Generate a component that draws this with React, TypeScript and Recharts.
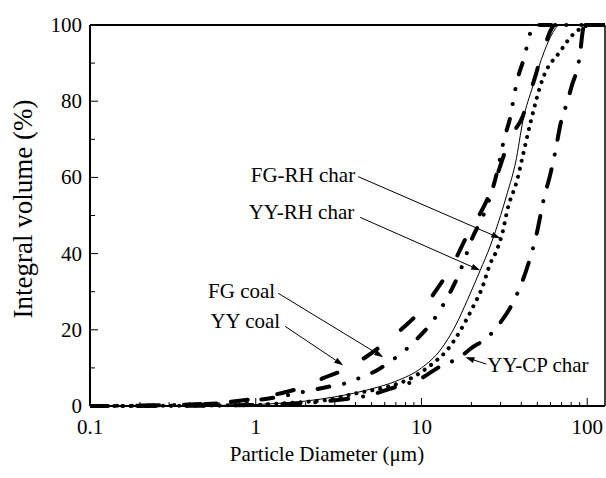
import React from 'react';
import { LineChart, Line, XAxis, YAxis, ReferenceLine } from 'recharts';

const FONT = '"Liberation Serif", "Times New Roman", Times, serif';

// particle diameter (um) -> integral volume (%)
const fgCoal = [
  [0.1, 0], [0.2, 0.1], [0.5, 0.5], [1, 1.5], [1.5, 2.7], [2.2, 4.2], [2.7, 5], [3.5, 6],
  [4.2, 7.3], [5.4, 9.4], [6.4, 11.5], [8, 14.7], [9.5, 17.8], [11.8, 22.5], [13.3, 26],
  [14.8, 29.6], [16.7, 34.3], [18.4, 39], [20, 43.5], [23.6, 50], [26, 55], [28.8, 62],
  [31.5, 70], [34.4, 76], [36.4, 82], [38.1, 86], [41.7, 91.5], [45, 97.5], [48, 100], [128, 100],
];
const yyCoal = [
  [0.1, 0], [0.2, 0.1], [0.5, 0.6], [1, 2], [1.5, 3.6], [2, 5.2], [2.55, 7.3], [3.37, 9.4],
  [4.6, 12.8], [5.8, 16], [8.3, 21.7], [10.2, 25.6], [13, 32], [15, 36], [18.5, 44], [21, 48],
  [26, 56], [28.3, 60], [31.5, 66], [35, 71], [40.8, 76], [45, 82], [48.6, 86.5], [52, 91],
  [56, 95], [60, 98.5], [64, 100], [128, 100],
];
const fgRhChar = [
  [0.1, 0], [0.3, 0.05], [0.6, 0.15], [1, 0.3], [1.85, 1], [2.7, 1.6], [4.1, 3.4], [6.2, 5],
  [8.9, 7.6], [11.8, 11.3], [14.3, 14.7], [17.2, 19.9], [20.4, 25.9], [23.3, 31.2], [26, 37.4],
  [28.4, 40.8], [30.6, 45], [33.2, 52], [37.6, 59], [41, 66], [45.4, 74.3], [54, 86],
  [69, 93.2], [80, 97], [95, 99.5], [105, 100], [128, 100],
];
const yyRhChar = [
  [0.1, 0], [0.3, 0.05], [0.6, 0.15], [1, 0.4], [1.5, 0.8], [2, 1.3], [3, 2.4], [5, 4.5],
  [7, 6.5], [10, 10], [13, 14.7], [16, 21], [19, 28], [22.6, 35.6], [26, 42], [30, 50],
  [33, 56], [37, 64], [41, 75], [47, 84], [55, 93], [62, 98], [68, 100], [128, 100],
];
const yyCpChar = [
  [0.1, 0], [0.5, 0.1], [1, 0.3], [2, 0.8], [3, 1.5], [5, 3], [7, 5], [10, 7.3], [12.5, 10],
  [17, 12.8], [20, 15.2], [25, 18], [30, 22], [35, 26.5], [40, 32], [45, 38.5], [50, 46],
  [54.4, 53.9], [60, 61], [64.3, 67], [69, 74], [76, 80], [81.4, 84.6], [87.3, 88.7],
  [91, 93.2], [93, 97], [96, 100], [128, 100],
];

const xTicks = [0.1, 0.2, 0.3, 0.4, 0.5, 0.6, 0.7, 0.8, 0.9, 1, 2, 3, 4, 5, 6, 7, 8, 9,
  10, 20, 30, 40, 50, 60, 70, 80, 90, 100];
const xLabelled = [0.1, 1, 10, 100];
const yTicks = [0, 10, 20, 30, 40, 50, 60, 70, 80, 90, 100];
const yLabelled = [0, 20, 40, 60, 80, 100];

// annotation text, arrow tail and head in data units
const notes = [
  { text: 'FG-RH char', from: [4.15, 60.2], to: [29.9, 44.0] },
  { text: 'YY-RH char', from: [4.27, 49.5], to: [22.6, 35.6] },
  { text: 'FG coal', from: [1.365, 29.6], to: [5.88, 12.8] },
  { text: 'YY coal', from: [1.505, 20.9], to: [3.37, 10.7] },
  { text: 'YY-CP char', from: [24.6, 11.0], to: [18.4, 12.8] },
];
const noteText = [
  { anchor: 'end', dx: -3, dy: 5 },
  { anchor: 'end', dx: -6, dy: 2 },
  { anchor: 'end', dx: -3, dy: 5 },
  { anchor: 'end', dx: -5, dy: 2 },
  { anchor: 'start', dx: 1, dy: 8 },
];

const toPts = (a: number[][]) => a.map(([x, y]) => ({ x, y }));

const XTick = (p: any) => {
  const { x, y, payload } = p;
  const major = xLabelled.includes(payload.value);
  return (
    <g>
      <line x1={x} x2={x} y1={y} y2={y - (major ? 8 : 4)} stroke="#000" strokeWidth={1} />
      {major && (
        <text x={x} y={y + 28} textAnchor="middle" fontSize={21} fontFamily={FONT} fill="#000">
          {String(payload.value)}
        </text>
      )}
    </g>
  );
};

const YTick = (p: any) => {
  const { x, y, payload } = p;
  const major = yLabelled.includes(payload.value);
  return (
    <g>
      <line x1={x} x2={x + (major ? 8 : 5)} y1={y} y2={y} stroke="#000" strokeWidth={1} />
      {major && (
        <text x={x - 8} y={y} dy="0.33em" textAnchor="end" fontSize={21} fontFamily={FONT} fill="#000">
          {String(payload.value)}
        </text>
      )}
    </g>
  );
};

const arrowShape = (text: string, anchor: string, dx: number, dy: number) => (p: any) => {
  const { x1, y1, x2, y2 } = p;
  const a = Math.atan2(y2 - y1, x2 - x1);
  const L = 9;
  const W = 3;
  const bx = x2 - L * Math.cos(a);
  const by = y2 - L * Math.sin(a);
  const pts = `${x2},${y2} ${bx - W * Math.sin(a)},${by + W * Math.cos(a)} ${bx + W * Math.sin(a)},${by - W * Math.cos(a)}`;
  return (
    <g>
      <line x1={x1} y1={y1} x2={bx} y2={by} stroke="#000" strokeWidth={1} />
      <polygon points={pts} fill="#000" />
      <text x={x1 + dx} y={y1 + dy} textAnchor={anchor as any} fontSize={21} fontFamily={FONT} fill="#000">
        {text}
      </text>
    </g>
  );
};

export default function App() {
  return (
    <div style={{ position: 'absolute', left: 0, top: 0, background: '#fff' }}>
      <LineChart
        width={606}
        height={478}
        margin={{ top: 25, right: 1, bottom: 71, left: 89 }}
        style={{ fontFamily: FONT }}
      >
        <XAxis
          type="number"
          dataKey="x"
          scale="log"
          domain={[0.1, 128]}
          allowDataOverflow
          ticks={xTicks}
          interval={0}
          height={1}
          tickSize={0}
          tickMargin={0}
          tick={XTick}
          axisLine={{ stroke: '#000', strokeWidth: 2 }}
        />
        <YAxis
          type="number"
          dataKey="y"
          domain={[0, 100]}
          ticks={yTicks}
          interval={0}
          width={1}
          tickSize={0}
          tickMargin={0}
          tick={YTick}
          axisLine={{ stroke: '#000', strokeWidth: 2 }}
        />
        <ReferenceLine y={100} stroke="#000" strokeWidth={2} />
        <ReferenceLine x={128} stroke="#000" strokeWidth={1.5} />

        <Line data={toPts(yyRhChar)} dataKey="y" name="YY-RH char" type="monotone" stroke="#000"
          strokeWidth={1} dot={false} activeDot={false} isAnimationActive={false} />
        <Line data={toPts(fgRhChar)} dataKey="y" name="FG-RH char" type="monotone" stroke="#000"
          strokeWidth={4} strokeDasharray="0.1 8" strokeLinecap="round" dot={false} activeDot={false}
          isAnimationActive={false} />
        <Line data={toPts(yyCpChar)} dataKey="y" name="YY-CP char" type="monotone" stroke="#000"
          strokeWidth={4} strokeDasharray="18 15 0.1 15" strokeLinecap="round" dot={false}
          activeDot={false} isAnimationActive={false} />
        <Line data={toPts(fgCoal)} dataKey="y" name="FG coal" type="monotone" stroke="#000"
          strokeWidth={4} strokeDasharray="12 15 0.1 15 0.1 15" strokeLinecap="round" dot={false}
          activeDot={false} isAnimationActive={false} />
        <Line data={toPts(yyCoal)} dataKey="y" name="YY coal" type="monotone" stroke="#000"
          strokeWidth={4} strokeDasharray="17 30" strokeLinecap="round" dot={false}
          activeDot={false} isAnimationActive={false} />

        {notes.map((n, i) => (
          <ReferenceLine
            key={n.text}
            segment={[{ x: n.from[0], y: n.from[1] }, { x: n.to[0], y: n.to[1] }]}
            shape={arrowShape(n.text, noteText[i].anchor, noteText[i].dx, noteText[i].dy)}
          />
        ))}

        <text x={327} y={461} textAnchor="middle" fontSize={21} fontFamily={FONT} fill="#000">
          Particle Diameter (μm)
        </text>
        <text
          x={32}
          y={209}
          transform="rotate(-90 32 209)"
          textAnchor="middle"
          fontSize={27}
          fontFamily={FONT}
          fill="#000"
        >
          Integral volume (%)
        </text>
      </LineChart>
    </div>
  );
}
